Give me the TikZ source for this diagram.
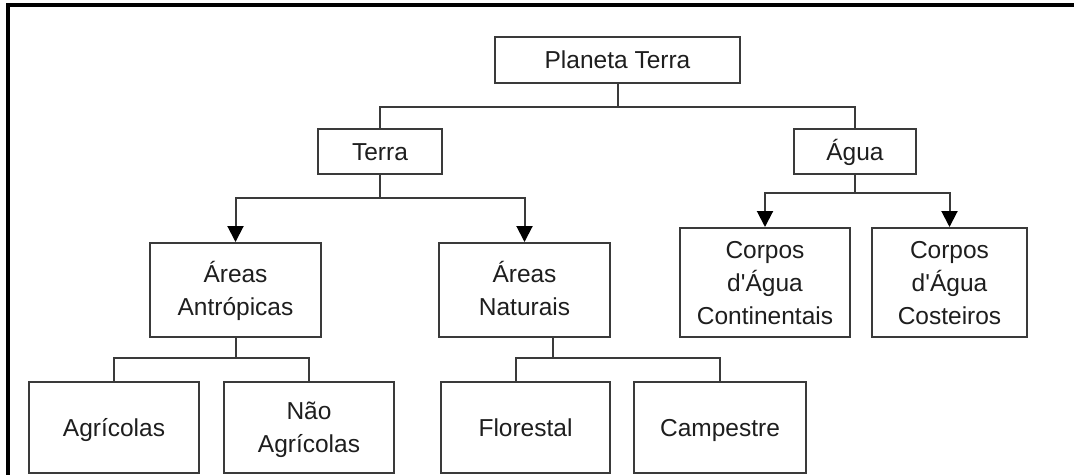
\documentclass[tikz,border=0pt]{standalone}
\usepackage{fontspec}
\setmainfont{Liberation Sans}
\usetikzlibrary{arrows.meta}
\definecolor{boxline}{HTML}{3A3A3A}
\definecolor{txt}{HTML}{1E1E1E}
\newcommand\bxs{\rule[-5pt]{0pt}{27.6pt}}
\begin{document}
\begin{tikzpicture}[x=1pt,y=-1pt,
  box/.style={draw=boxline, line width=2pt, rectangle, inner sep=0pt, align=center,
    text=txt, font=\fontsize{24.5}{33}\selectfont},
  conn/.style={draw=boxline, line width=2pt},
  arr/.style={conn, -{Triangle[width=16pt,length=16pt,fill=black,color=black]}}]
\useasboundingbox (0,0) rectangle (1074,475);
\fill[white] (0,0) rectangle (1074,475);
% frame
\draw[line width=3.5pt, black] (1074,5) -- (8,5) -- (8,475);
% nodes
\node[box, minimum width=245pt, minimum height=46pt] (pt) at (617.5,60) {\bxs Planeta Terra};
\node[box, minimum width=124pt, minimum height=45pt] (terra) at (380,151.5) {\bxs Terra};
\node[box, minimum width=122pt, minimum height=45pt] (agua) at (855,151.5) {\bxs Água};
\node[box, minimum width=171pt, minimum height=94pt] (antr) at (235.5,290) {\bxs Áreas\\\bxs Antrópicas};
\node[box, minimum width=171pt, minimum height=94pt] (natu) at (524.5,290) {\bxs Áreas\\\bxs Naturais};
\node[box, minimum width=170pt, minimum height=109pt] (cont) at (765,282.5) {\bxs Corpos\\\bxs d\textquotesingle Água\\\bxs Continentais};
\node[box, minimum width=155pt, minimum height=109pt] (cost) at (949.5,282.5) {\bxs Corpos\\\bxs d\textquotesingle Água\\\bxs Costeiros};
\node[box, minimum width=170pt, minimum height=91pt] (agri) at (114,427.5) {\bxs Agrícolas};
\node[box, minimum width=170pt, minimum height=91pt] (nagr) at (309,427.5) {\bxs Não\\\bxs Agrícolas};
\node[box, minimum width=169pt, minimum height=91pt] (flor) at (525.5,427.5) {\bxs Florestal};
\node[box, minimum width=172pt, minimum height=91pt] (camp) at (720,427.5) {\bxs Campestre};
% junctions
\coordinate (j1) at (617.5,107);
\coordinate (j2) at (380,198);
\coordinate (j3) at (855,193);
\coordinate (j4) at (235.5,358);
\coordinate (j5) at (553,358);
% connectors
\draw[conn] (pt.south) -- (j1);
\draw[conn] (terra.north) |- (j1) -| (agua.north);
\draw[conn] (terra.south) -- (j2);
\draw[arr] (j2) -| (antr.north);
\draw[arr] (j2) -| (natu.north);
\draw[conn] (agua.south) -- (j3);
\draw[arr] (j3) -| (cont.north);
\draw[arr] (j3) -| (cost.north);
\draw[conn] (antr.south) -- (j4);
\draw[conn] (agri.north) |- (j4) -| (nagr.north);
\draw[conn] (natu.south -| j5) -- (j5);
\draw[conn] ([xshift=-9.5pt]flor.north) |- (j5) -| (camp.north);
\end{tikzpicture}
\end{document}
